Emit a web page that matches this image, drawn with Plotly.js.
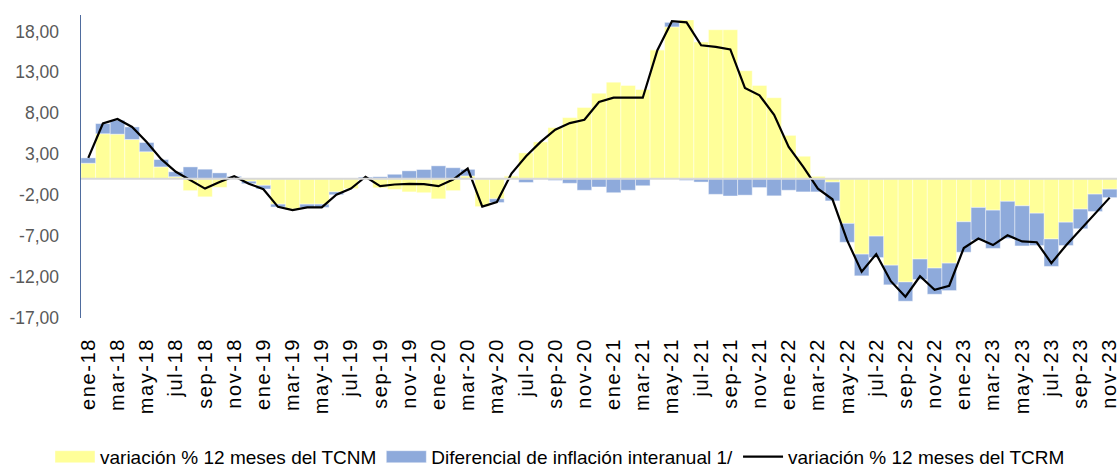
<!DOCTYPE html>
<html>
<head>
<meta charset="utf-8">
<script src="https://cdn.plot.ly/plotly-3.0.1.min.js"></script>
<style>
  html, body { margin: 0; padding: 0; background: #fff; }
  #chart { width: 1120px; height: 471px; }
</style>
</head>
<body>
<div id="chart"></div>
<script>
// Monthly series ene-18 .. nov-23 (71 months)
const MONTH_NAMES = ['ene', 'feb', 'mar', 'abr', 'may', 'jun', 'jul', 'ago', 'sep', 'oct', 'nov', 'dic'];
const YEARS = ['18', '19', '20', '21', '22', '23'];
const N_MONTHS = 71;

// variación % 12 meses del TCNM (yellow bars)
const tcnm = [
  1.9, 5.5, 5.45, 4.8, 3.3, 1.45, 0.25, -1.45, -2.2, -1.05, 0.15, -0.3,
  -0.8, -3.1, -3.7, -3.1, -3.1, -1.6, -1.2, 0.1, -1.1, -1.3, -1.6, -1.7,
  -2.45, -1.45, 0.35, -3.4, -2.45, 0.36, 3.16, 4.5, 6.25, 7.47, 8.7, 10.45,
  11.8, 11.4, 10.9, 15.75, 18.55, 19.4, 16.7, 18.2, 18.2, 13.2, 11.4, 9.9,
  5.3, 2.75, 0.3, -0.4, -5.45, -9.2, -7.0, -10.55, -12.6, -9.8, -10.9, -10.3,
  -5.25, -3.5, -3.83, -2.75, -3.3, -4.2, -7.35, -5.3, -3.7, -1.87, -1.27
];

// Diferencial de inflación interanual 1/ (blue bars)
const diferencial = [
  0.65, 1.24, 1.7, 1.53, 1.13, 0.9, 0.6, 1.45, 1.17, 0.72, 0.15, -0.3,
  -0.45, -0.35, -0.1, -0.4, -0.4, -0.35, 0.05, 0.12, 0.25, 0.55, 0.97, 1.13,
  1.58, 1.35, 0.8, 0, -0.45, 0, -0.45, -0.05, -0.2, -0.55, -1.4, -1.0,
  -1.7, -1.4, -0.85, 0, 0.55, -0.2, -0.4, -1.9, -2.1, -2.0, -1.07, -2.08,
  -1.4, -1.6, -1.6, -2.3, -2.3, -2.65, -2.62, -2.4, -2.35, -2.5, -3.2, -3.35,
  -3.72, -4.0, -4.67, -4.55, -4.9, -3.95, -3.35, -2.85, -2.4, -2.13, -1.03
];

// variación % 12 meses del TCRM (black line)
const tcrm = [
  2.55, 6.75, 7.3, 6.33, 4.5, 2.4, 0.85, -0.2, -1.2, -0.4, 0.32, -0.6,
  -1.27, -3.43, -3.83, -3.5, -3.5, -1.95, -1.2, 0.25, -0.9, -0.7, -0.62, -0.66,
  -0.9, -0.1, 1.25, -3.4, -2.85, 0.64, 2.75, 4.5, 6.0, 6.8, 7.2, 9.38,
  9.9, 9.9, 9.9, 15.7, 19.25, 19.1, 16.3, 16.1, 15.8, 11.1, 10.2, 7.8,
  3.9, 1.45, -1.2, -2.5, -7.5, -11.35, -9.2, -12.5, -14.4, -11.9, -13.55, -13.06,
  -8.45, -7.3, -8.1, -6.9, -7.65, -7.75, -10.3, -8.15, -6.2, -4.2, -2.3
];

const yTicks = [-17, -12, -7, -2, 3, 8, 13, 18];

const months = [];
for (const yy of YEARS) {
  for (const m of MONTH_NAMES) {
    if (months.length < N_MONTHS) months.push(`${m}-${yy}`);
  }
}

const FONT = 'Arial, "Liberation Sans", sans-serif';
const fmt = v => v.toFixed(2).replace('.', ',');

const traces = [
  {
    type: 'bar', name: 'variación % 12 meses del TCNM',
    x: months, y: tcnm,
    marker: { color: '#ffff99', line: { color: 'rgba(255,255,255,0.7)', width: 0.6 } },
    hoverinfo: 'skip'
  },
  {
    type: 'bar', name: 'Diferencial de inflación interanual 1/',
    x: months, y: diferencial,
    marker: { color: '#8eaadb', line: { color: 'rgba(255,255,255,0.7)', width: 0.6 } },
    hoverinfo: 'skip'
  },
  {
    type: 'scatter', mode: 'lines', name: 'variación % 12 meses del TCRM',
    x: months, y: tcrm,
    line: { color: '#000000', width: 2.2 },
    hoverinfo: 'skip'
  }
];

const layout = {
  width: 1120, height: 471,
  margin: { l: 81, r: 3, t: 15, b: 153 },
  paper_bgcolor: '#ffffff', plot_bgcolor: '#ffffff',
  font: { family: FONT, color: '#000000', size: 18 },
  barmode: 'relative', bargap: 0,
  showlegend: true,
  legend: {
    orientation: 'h', xref: 'container', yref: 'container',
    x: 0.5, xanchor: 'center', y: 0.03, yanchor: 'middle',
    font: { family: FONT, size: 19, color: '#000000' },
    traceorder: 'normal', itemwidth: 40
  },
  xaxis: {
    type: 'category', tickmode: 'linear', tick0: 0, dtick: 2,
    tickangle: -90, showgrid: false, zeroline: false, showline: false,
    ticks: '', ticklabelstandoff: 15,
    tickfont: { family: FONT, size: 20, color: '#000000' }
  },
  yaxis: {
    range: [-17, 20], tickmode: 'array', tickvals: yTicks, ticktext: yTicks.map(fmt),
    showgrid: false, zeroline: false,
    showline: true, linecolor: '#4f6c9e', linewidth: 1.5,
    ticks: '', ticklabelstandoff: 17,
    tickfont: { family: FONT, size: 17.5, color: '#595959' }
  },
  shapes: [
    {
      type: 'line', xref: 'paper', x0: 0, x1: 1, yref: 'y', y0: 0, y1: 0,
      line: { color: '#d9d9d9', width: 2 }, layer: 'above'
    }
  ]
};

Plotly.newPlot('chart', traces, layout, { displayModeBar: false, staticPlot: true }).then(gd => {
  // Excel-style touches Plotly has no option for: longer rotated month labels,
  // wide rectangular legend swatches for the bar series.
  gd.querySelectorAll('.xtick text').forEach(t => { t.style.letterSpacing = '1.6px'; });
  const items = gd.querySelectorAll('.legend .traces');
  [0, 1].forEach(i => {
    const p = items[i] && items[i].querySelector('.legendpoints path');
    if (p) p.setAttribute('d', 'M-20,6H20V-6H-20Z');
  });
});
</script>
</body>
</html>
